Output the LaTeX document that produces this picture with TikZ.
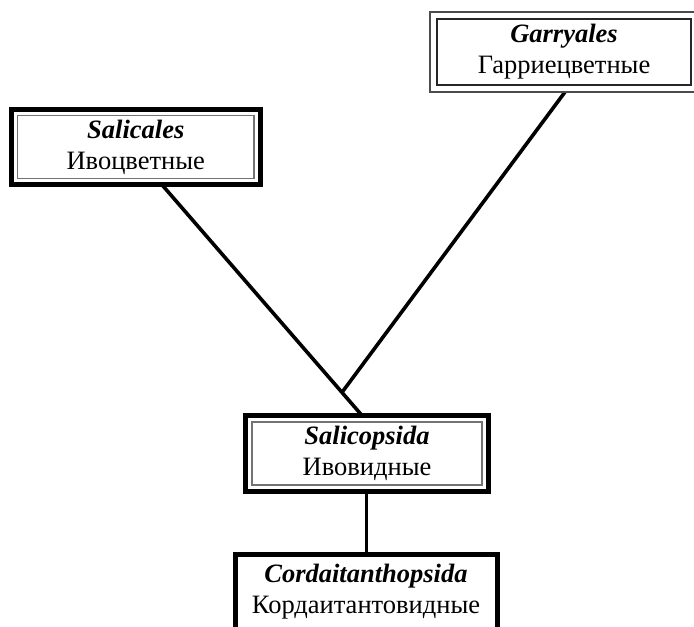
\documentclass[tikz,border=0pt]{standalone}
\usepackage{fontspec}
\setmainfont{Liberation Serif}
\usetikzlibrary{calc}
\begin{document}
\begin{tikzpicture}[x=1pt,y=-1pt,
  taxon/.style={rectangle, inner sep=0pt, outer sep=0pt, align=center,
                font=\fontsize{26.5}{31}\selectfont},
  thickframe/.style={draw=black, fill=white, line width=5pt},
  lightframe/.style={draw=black!70, fill=white, line width=1.3pt},
  innerline/.style={draw=black!55, line width=1.3pt},
  innerdark/.style={draw=black!85, line width=1.3pt},
  link/.style={line width=3.6pt}]
\useasboundingbox (0,0) rectangle (694,627);

% connectors (drawn first so the boxes cover their ends)
\coordinate (salicales-out) at (161.75,184.5);
\coordinate (salicopsida-in) at (362,415.5);
\coordinate (fork) at ($(salicales-out)!0.9!(salicopsida-in)$);
\draw[link] (salicales-out) -- (salicopsida-in);
\draw[link] (565,92) -- (fork);
\draw[link] (366.5,491.5) -- (366.5,554.5);

% Salicales
\node[taxon, thickframe, minimum width=248.5pt, minimum height=75pt]
  (salicales) at (135.75,147) {\textbf{\textit{Salicales}}\\Ивоцветные};
\draw[innerline] ($(salicales.north west)+(6,6)$) rectangle ($(salicales.south east)+(-6,-6)$);

% Garryales
\node[taxon, lightframe, minimum width=268pt, minimum height=80pt]
  (garryales) at (564,52) {\textbf{\textit{Garryales}}\\Гарриецветные};
\draw[innerdark] ($(garryales.north west)+(7,7)$) rectangle ($(garryales.south east)+(-7,-7)$);

% Salicopsida
\node[taxon, thickframe, minimum width=243pt, minimum height=76pt]
  (salicopsida) at (367,453.5) {\textbf{\textit{Salicopsida}}\\Ивовидные};
\draw[innerline] ($(salicopsida.north west)+(6.5,6.5)$) rectangle ($(salicopsida.south east)+(-6.5,-6.5)$);

% Cordaitanthopsida
\node[taxon, thickframe, minimum width=262pt, minimum height=90pt, anchor=north]
  (cordait) at (366,554.5) {};
\node[taxon] (cordaitname) at (366,592) {\textbf{\textit{Cordaitanthopsida}}\\Кордаитантовидные};
\end{tikzpicture}
\end{document}
